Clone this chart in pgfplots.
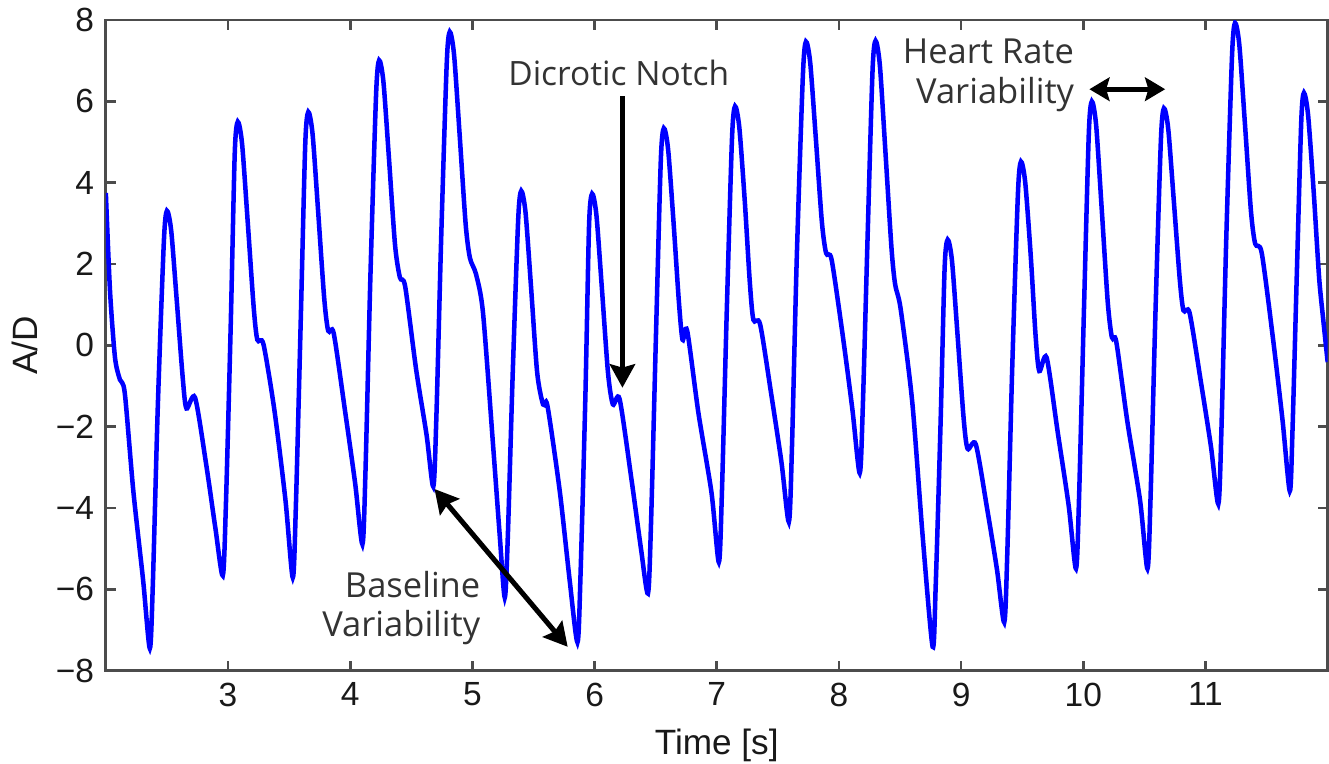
\documentclass[border=0pt]{standalone}
\usepackage{pgfplots}
\pgfplotsset{compat=1.18}
\usepackage{fontspec}
\setmainfont{Liberation Sans}
\newfontfamily\annfont{Open Sans}
\usetikzlibrary{arrows.meta}
\begin{document}
\begin{tikzpicture}
\begin{axis}[
  scale only axis,
  width=364.8pt, height=194.3pt,
  xmin=2, xmax=12, ymin=-8, ymax=8,
  xtick={3,4,5,6,7,8,9,10,11},
  xticklabels={3,4,5,6,7,8,9,10,11},
  ytick={-8,-6,-4,-2,0,2,4,6,8},
  yticklabels={−8,−6,−4,−2,0,2,4,6,8},
  tick align=inside,
  major tick length=3pt,
  axis line style={black!70, line width=0.8pt},
  tick style={black!70, line width=0.8pt},
  tick label style={font=\fontsize{10}{12}\selectfont, text=black!90},
  label style={font=\fontsize{10.5}{12}\selectfont, text=black!90},
  xlabel={Time [s]},
  ylabel={A/D},
  ylabel style={yshift=-1.5pt},
  clip=true,
]
\addplot[blue, line width=1.35pt, smooth, tension=0.45] coordinates {
(2.000,3.75) (2.034,1.35) (2.075,-0.30) (2.115,-0.84) (2.155,-1.17) (2.225,-3.58) (2.305,-5.77) (2.360,-7.45)
(2.385,-5.84) (2.425,-1.53) (2.475,2.56) (2.500,3.31) (2.535,2.82) (2.580,1.12) (2.630,-0.82) (2.660,-1.55) (2.730,-1.28) (2.820,-2.90) (2.897,-4.50) (2.957,-5.66)
(2.982,-3.99) (3.022,0.48) (3.055,4.72) (3.080,5.50) (3.115,4.96) (3.160,3.09) (3.210,0.94) (3.240,0.14) (3.290,0.03) (3.380,-1.60) (3.470,-3.80) (3.530,-5.71)
(3.555,-3.99) (3.595,0.59) (3.632,4.94) (3.657,5.74) (3.692,5.20) (3.737,3.32) (3.787,1.17) (3.820,0.36) (3.865,0.30) (3.955,-1.55) (4.040,-3.38) (4.100,-4.89)
(4.125,-3.10) (4.165,1.66) (4.212,6.18) (4.237,7.01) (4.272,6.48) (4.317,4.61) (4.367,2.47) (4.407,1.67) (4.450,1.45) (4.540,-0.60) (4.625,-2.20) (4.680,-3.47)
(4.705,-1.79) (4.745,2.68) (4.790,6.93) (4.815,7.71) (4.850,7.15) (4.895,5.21) (4.945,2.98) (4.980,2.15) (5.030,1.75) (5.087,0.80) (5.170,-2.48) (5.224,-4.68) (5.265,-6.20)
(5.290,-4.70) (5.330,-0.70) (5.375,3.10) (5.400,3.80) (5.435,3.27) (5.480,1.44) (5.530,-0.66) (5.578,-1.45) (5.614,-1.48) (5.715,-3.58) (5.796,-5.77) (5.860,-7.30)
(5.885,-5.65) (5.925,-1.23) (5.955,2.96) (5.980,3.73) (6.015,3.21) (6.060,1.40) (6.110,-0.67) (6.150,-1.45) (6.205,-1.32) (6.300,-3.25) (6.380,-5.00) (6.437,-6.10)
(6.462,-4.38) (6.502,0.19) (6.542,4.54) (6.567,5.34) (6.602,4.82) (6.647,3.00) (6.690,1.08) (6.720,0.14) (6.758,0.36) (6.850,-1.66) (6.957,-3.62) (7.017,-5.33)
(7.042,-3.65) (7.082,0.84) (7.125,5.10) (7.150,5.88) (7.185,5.35) (7.230,3.52) (7.270,1.58) (7.300,0.63) (7.355,0.52) (7.445,-1.18) (7.530,-2.88) (7.590,-4.34)
(7.615,-2.57) (7.655,2.16) (7.705,6.64) (7.730,7.47) (7.765,6.95) (7.810,5.13) (7.860,3.05) (7.895,2.27) (7.940,2.11) (8.030,0.27) (8.110,-1.57) (8.170,-3.14)
(8.195,-1.55) (8.235,2.71) (8.275,6.75) (8.300,7.49) (8.335,6.89) (8.380,4.79) (8.430,2.40) (8.460,1.50) (8.505,0.90) (8.600,-1.39) (8.685,-4.68) (8.767,-7.41)
(8.792,-5.91) (8.832,-1.90) (8.865,1.90) (8.890,2.60) (8.925,2.09) (8.970,0.29) (9.020,-1.77) (9.053,-2.54) (9.120,-2.43) (9.210,-3.96) (9.293,-5.50) (9.353,-6.81)
(9.378,-5.11) (9.418,-0.58) (9.465,3.73) (9.490,4.52) (9.525,4.00) (9.570,2.20) (9.610,0.22) (9.640,-0.63) (9.700,-0.30) (9.790,-2.12) (9.880,-3.93) (9.940,-5.49)
(9.965,-3.77) (10.005,0.83) (10.045,5.20) (10.070,6.00) (10.105,5.42) (10.150,3.39) (10.200,1.07) (10.234,0.20) (10.270,0.09) (10.360,-1.86) (10.465,-3.82) (10.525,-5.49)
(10.550,-3.79) (10.590,0.74) (10.635,5.04) (10.660,5.83) (10.695,5.33) (10.740,3.59) (10.790,1.61) (10.820,0.86) (10.870,0.80) (10.960,-0.85) (11.045,-2.49) (11.105,-3.90)
(11.130,-2.13) (11.170,2.61) (11.217,7.10) (11.242,7.93) (11.277,7.39) (11.322,5.49) (11.372,3.31) (11.407,2.50) (11.460,2.28) (11.550,0.23) (11.630,-1.82) (11.690,-3.58)
(11.712,-2.11) (11.748,1.80) (11.784,5.52) (11.806,6.21) (11.840,5.66) (11.885,3.81) (11.930,1.67) (11.965,0.60) (12.000,-0.41)
};
% annotations
\node[anchor=base, font=\annfont\fontsize{10}{12}\selectfont, text=black!80] at (axis cs:6.198,6.40) {Dicrotic Notch};
\draw[line width=1.5pt, -{Stealth[length=7pt,width=7.5pt,inset=1pt]}] (axis cs:6.228,6.13) -- (axis cs:6.228,-1.04);
\node[anchor=base east, inner sep=0pt, align=right, font=\annfont\fontsize{10.3}{11.8}\selectfont, text=black!80] at (axis cs:5.07,-7.16) {Baseline\\Variability};
\draw[line width=1.5pt, {Stealth[length=7pt,width=7.5pt,inset=1pt]}-{Stealth[length=7pt,width=7.5pt,inset=1pt]}] (axis cs:4.69,-3.53) -- (axis cs:5.78,-7.41);
\node[anchor=base east, inner sep=0pt, align=right, font=\annfont\fontsize{10.3}{11.8}\selectfont, text=black!80] at (axis cs:9.93,5.96) {Heart Rate\\Variability};
\draw[line width=1.5pt, {Stealth[length=6pt,width=7pt,inset=1pt]}-{Stealth[length=6pt,width=7pt,inset=1pt]}] (axis cs:10.05,6.30) -- (axis cs:10.67,6.30);
\end{axis}
\pgfresetboundingbox
\path[use as bounding box] ([shift={(-31.6pt,-27.8pt)}]current axis.south west) rectangle ([shift={(0.4pt,6pt)}]current axis.north east);
\end{tikzpicture}
\end{document}
